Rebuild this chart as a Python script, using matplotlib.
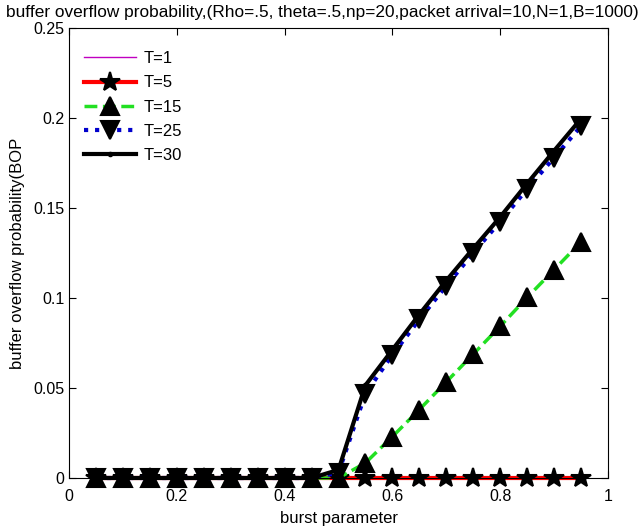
import matplotlib
matplotlib.use("Agg")
import matplotlib.pyplot as plt

plt.rcParams['font.family'] = ['Liberation Sans', 'DejaVu Sans']

# burst parameter values
burst = [0.05, 0.10, 0.15, 0.20, 0.25, 0.30, 0.35, 0.40, 0.45, 0.50,
         0.55, 0.60, 0.65, 0.70, 0.75, 0.80, 0.85, 0.90, 0.95]

# buffer overflow probability for each T
bop_t1 = [0.0] * 19
bop_t5 = [0.0] * 19
bop_t15 = [0, 0, 0, 0, 0, 0, 0, 0, 0, 0.0,
           0.0084, 0.023, 0.038, 0.0534, 0.0688, 0.0843, 0.1003, 0.1157, 0.1312]
bop_t25 = [0, 0, 0, 0, 0, 0, 0, 0, 0, 0.003,
           0.0469, 0.0684, 0.0881, 0.1068, 0.125, 0.1425, 0.1606, 0.178, 0.1955]
bop_t30 = [0, 0, 0, 0, 0, 0, 0, 0, 0, 0.0045,
           0.0515, 0.0712, 0.0909, 0.1097, 0.1275, 0.145, 0.1636, 0.1818, 0.1996]

xticks = [0, 0.2, 0.4, 0.6, 0.8, 1]
xtick_labels = ["0", "0.2", "0.4", "0.6", "0.8", "1"]
yticks = [0, 0.05, 0.1, 0.15, 0.2, 0.25]
ytick_labels = ["0", "0.05", "0.1", "0.15", "0.2", "0.25"]

fig = plt.figure(figsize=(6.42, 5.28), dpi=100)
ax = fig.add_axes([69 / 642, 50 / 528, 539 / 642, 450 / 528])

ax.plot(burst, bop_t1, color="#c000c0", lw=1, label="T=1", clip_on=False)
ax.plot(burst, bop_t5, color="red", lw=3, marker="*", ms=15, mew=1.5,
        mfc="black", mec="black", label="T=5", clip_on=False)
ax.plot(burst, bop_t15, color="#22e022", lw=2.5, ls="--", marker="^", ms=13, mew=1.5,
        mfc="black", mec="black", label="T=15", clip_on=False)
ax.plot(burst, bop_t25, color="#0000cc", lw=3, ls=":", marker="v", ms=13, mew=1.5,
        mfc="black", mec="black", label="T=25", clip_on=False)
ax.plot(burst, bop_t30, color="black", lw=3, marker=".", ms=6,
        mfc="black", mec="black", label="T=30", clip_on=False)

ax.set_xlim(0, 1)
ax.set_ylim(0, 0.25)
ax.set_xticks(xticks)
ax.set_xticklabels(xtick_labels)
ax.set_yticks(yticks)
ax.set_yticklabels(ytick_labels)
ax.tick_params(direction="in", top=True, right=True, labelsize=11.5, length=5)
ax.tick_params(axis="x", pad=8)

ax.set_xlabel("burst parameter", fontsize=12, labelpad=5)
ax.set_ylabel("buffer overflow probability(BOP", fontsize=12, labelpad=6)
fig.text(322 / 642, 1 - 13 / 528,
         "buffer overflow probability,(Rho=.5, theta=.5,np=20,packet arrival=10,N=1,B=1000)",
         ha="center", va="center", fontsize=12.4)

ax.legend(loc="upper left", bbox_to_anchor=(0.004, 0.978), frameon=False, fontsize=12,
          handlelength=3.1, handletextpad=0.45, labelspacing=0.55, borderaxespad=0.4)

fig.savefig("out.png", dpi=100)
